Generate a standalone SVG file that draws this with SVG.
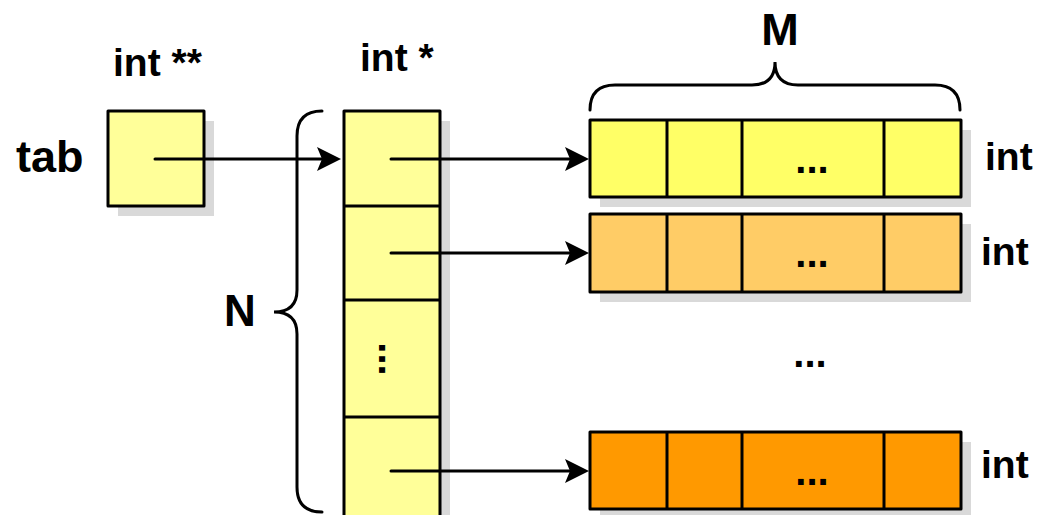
<svg xmlns="http://www.w3.org/2000/svg" width="1037" height="515" viewBox="0 0 1037 515">
<style>
.t{font-family:"Liberation Sans",Arial,sans-serif;font-weight:bold;fill:#000}
.box{stroke:#000;stroke-width:3;stroke-linejoin:round}
.sh{fill:#d9d9d9}
.div{stroke:#000;stroke-width:3}
.br{fill:none;stroke:#000;stroke-width:3;stroke-linecap:round}
.ar{fill:none;stroke:#000;stroke-width:3;stroke-linecap:round}
.pale{fill:#ffff99}
</style>
<defs>
<marker id="ah" markerUnits="userSpaceOnUse" markerWidth="24" markerHeight="24" refX="12" refY="12" orient="auto" overflow="visible">
<path d="M24,12 L0,0 L5,12 L0,24 Z" fill="#000"/>
</marker>
</defs>
<rect width="1037" height="515" fill="#fff"/>

<g id="tab">
<rect class="sh" x="118" y="121" width="96" height="95"/>
<rect class="box pale" x="108" y="111" width="96" height="95"/>
<text class="t" x="16" y="172" font-size="45">tab</text>
<text class="t" x="113" y="76" font-size="39">int **</text>
</g>

<g id="ptrs">
<rect class="sh" x="354" y="121" width="96" height="410"/>
<rect class="box pale" x="344" y="111" width="96" height="410"/>
<line class="div" x1="344" y1="206" x2="440" y2="206"/>
<line class="div" x1="344" y1="300" x2="440" y2="300"/>
<line class="div" x1="344" y1="417" x2="440" y2="417"/>
<text class="t" x="360" y="71" font-size="39">int *</text>
<text class="t" font-size="40" text-anchor="middle" transform="translate(379,359) rotate(90)">...</text>
</g>

<g id="row1">
<rect class="sh" x="600" y="130" width="371" height="77"/>
<rect class="box" fill="#ffff66" x="590" y="120" width="371" height="77"/>
<line class="div" x1="667" y1="120" x2="667" y2="197"/>
<line class="div" x1="742" y1="120" x2="742" y2="197"/>
<line class="div" x1="884" y1="120" x2="884" y2="197"/>
<text class="t" x="812" y="173" font-size="40" text-anchor="middle">...</text>
<text class="t" x="985" y="170" font-size="39">int</text>
</g>

<g id="row2">
<rect class="sh" x="600" y="224" width="371" height="78"/>
<rect class="box" fill="#ffcc66" x="590" y="214" width="371" height="78"/>
<line class="div" x1="667" y1="214" x2="667" y2="292"/>
<line class="div" x1="742" y1="214" x2="742" y2="292"/>
<line class="div" x1="884" y1="214" x2="884" y2="292"/>
<text class="t" x="812" y="267" font-size="40" text-anchor="middle">...</text>
<text class="t" x="981" y="265" font-size="39">int</text>
</g>

<text class="t" x="810" y="367" font-size="40" text-anchor="middle">...</text>

<g id="row4">
<rect class="sh" x="600" y="442" width="371" height="77"/>
<rect class="box" fill="#ff9900" x="590" y="432" width="371" height="77"/>
<line class="div" x1="667" y1="432" x2="667" y2="509"/>
<line class="div" x1="742" y1="432" x2="742" y2="509"/>
<line class="div" x1="884" y1="432" x2="884" y2="509"/>
<text class="t" x="812" y="485" font-size="40" text-anchor="middle">...</text>
<text class="t" x="981" y="478" font-size="39">int</text>
</g>

<g id="braceM">
<path class="br" d="M590,110 Q590,85 615,85 L752,85 Q775,85 775,62 Q775,85 798,85 L935,85 Q960,85 960,110"/>
<text class="t" x="780" y="45" font-size="45" text-anchor="middle">M</text>
</g>

<g id="braceN">
<path class="br" d="M322,111 Q297,111 297,136 L297,290 Q297,312 274,312 Q297,312 297,334 L297,487 Q297,512 322,512"/>
<text class="t" x="240" y="326" font-size="44" text-anchor="middle">N</text>
</g>

<g id="connectors">
<line class="ar" x1="155" y1="159" x2="329" y2="159" marker-end="url(#ah)"/>
<line class="ar" x1="391" y1="159" x2="577" y2="159" marker-end="url(#ah)"/>
<line class="ar" x1="391" y1="253" x2="577" y2="253" marker-end="url(#ah)"/>
<line class="ar" x1="391" y1="471" x2="577" y2="471" marker-end="url(#ah)"/>
</g>
</svg>
